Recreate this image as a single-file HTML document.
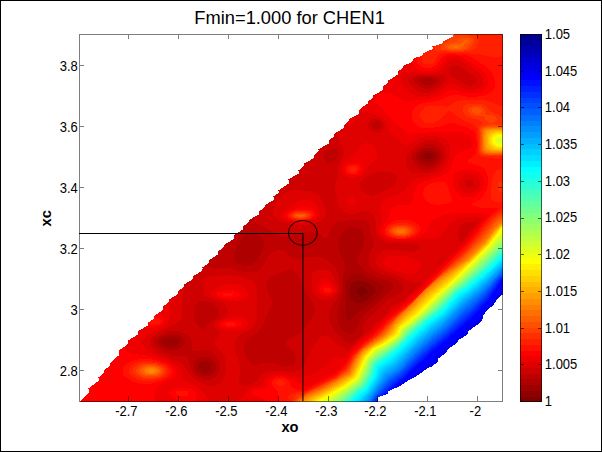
<!DOCTYPE html>
<html><head><meta charset="utf-8"><style>
html,body{margin:0;padding:0;width:602px;height:452px;overflow:hidden;background:#fff}
svg{display:block}
svg text{font-family:"Liberation Sans",sans-serif;font-size:13px;fill:#000}
</style></head><body>
<svg width="602" height="452" viewBox="0 0 602 452"><rect x="0.5" y="0.5" width="601" height="451" fill="#fff" stroke="#000" stroke-width="1"/><g transform="scale(0.5)" fill-rule="evenodd" shape-rendering="crispEdges"><path fill="#800000" d="M1005 68 909 68 905 70 905 73 903 75 886 83 886 85 884 87 865 93 865 97 863 99 845 107 845 110 843 112 826 118 826 122 824 124 806 132 806 136 796 143 796 149 777 161 776 166 766 173 766 180 747 191 746 196 736 203 736 207 724 214 723 217 717 222 717 228 698 238 697 243 688 250 688 256 668 268 668 273 657 281 657 287 637 299 637 303 628 310 628 316 608 328 608 332 597 341 597 347 577 359 577 367 557 381 557 386 547 393 547 400 530 410 529 415 517 423 517 429 498 440 497 445 485 453 485 459 467 471 467 478 448 490 447 495 435 503 435 509 418 521 418 526 405 535 405 541 387 552 385 559 368 569 368 573 356 583 356 588 338 599 338 604 326 613 326 620 308 632 308 637 296 645 296 651 277 662 275 670 256 681 256 688 237 702 237 711 219 727 219 732 208 741 208 746 197 755 197 762 177 777 177 786 160 803 755 803 755 795 757 793 760 793 775 788 775 784 777 782 802 771 821 758 838 749 855 736 862 734 875 724 875 718 892 706 896 698 913 687 917 680 934 670 936 667 937 662 954 650 965 639 967 630 974 620 985 612 994 599 1005 589Z"/><path fill="#8f0000" d="M716 576 722 574 729 576 734 581 733 586 726 591 719 591 713 585 713 580ZM1005 68 909 68 905 70 905 73 903 75 886 83 886 85 884 87 865 93 865 97 863 99 845 107 845 110 843 112 826 118 826 122 824 124 806 132 806 136 796 143 796 149 777 161 776 166 766 173 766 180 747 191 746 196 736 203 736 207 724 214 723 217 717 222 717 228 698 238 697 243 688 250 688 256 668 268 668 273 657 281 657 287 637 299 637 303 628 310 628 316 608 328 608 332 597 341 597 347 577 359 577 367 557 381 557 386 547 393 547 400 530 410 529 415 517 423 517 429 498 440 497 445 485 453 485 459 467 471 467 478 448 490 447 495 435 503 435 509 418 521 418 526 405 535 405 541 387 552 385 559 368 569 368 573 356 583 356 588 338 599 338 604 326 613 326 620 308 632 308 637 296 645 296 651 277 662 275 670 256 681 256 688 237 702 237 711 219 727 219 732 208 741 208 746 197 755 197 762 177 777 177 786 160 803 755 803 755 795 757 793 760 793 775 788 775 784 777 782 802 771 821 758 838 749 855 736 862 734 875 724 875 718 892 706 896 698 913 687 917 680 934 670 936 667 937 662 954 650 965 639 967 630 974 620 985 612 994 599 1005 589Z"/><path fill="#9f0000" d="M338 683 342 682 343 684 339 685ZM701 572 703 568 711 562 723 562 735 566 745 572 749 577 749 585 746 590 734 601 722 606 711 606 704 600 700 591 699 582ZM846 311 850 307 860 306 866 311 866 313 861 318 853 319 850 318 846 314ZM1005 68 909 68 905 70 905 73 903 75 886 83 886 85 884 87 865 93 865 97 863 99 845 107 845 110 843 112 826 118 826 122 824 124 806 132 806 136 796 143 796 149 777 161 776 166 766 173 766 180 747 191 746 196 736 203 736 207 724 214 723 217 717 222 717 228 698 238 697 243 688 250 688 256 668 268 668 273 657 281 657 287 637 299 637 303 628 310 628 316 608 328 608 332 597 341 597 347 577 359 577 367 557 381 557 386 547 393 547 400 530 410 529 415 517 423 517 429 498 440 497 445 485 453 485 459 467 471 467 478 448 490 447 495 435 503 435 509 418 521 418 526 405 535 405 541 387 552 385 559 368 569 368 573 356 583 356 588 338 599 338 604 326 613 326 620 308 632 308 637 296 645 296 651 277 662 275 670 256 681 256 688 237 702 237 711 219 727 219 732 208 741 208 746 197 755 197 762 177 777 177 786 160 803 755 803 755 795 757 793 760 793 775 788 775 784 777 782 802 771 821 758 838 749 855 736 862 734 875 724 875 718 892 706 896 698 913 687 917 680 934 670 936 667 937 662 954 650 965 639 967 630 974 620 985 612 994 599 1005 589Z"/><path fill="#af0000" d="M398 727 407 722 415 723 422 729 423 737 421 741 416 745 413 746 404 745 396 737 396 730ZM324 682 326 679 331 676 343 674 352 676 357 679 359 682 359 686 354 691 349 693 335 693 328 690 324 686ZM759 567 765 573 765 579 759 589 753 596 739 609 718 623 701 640 696 640 692 634 691 629 691 584 692 583 693 565 698 554 704 549 715 548 724 551 735 557ZM838 310 844 304 848 302 863 301 866 302 872 307 873 315 865 323 859 325 851 325 844 322 838 316ZM1005 68 909 68 905 70 905 73 903 75 886 83 886 85 884 87 865 93 865 97 863 99 845 107 845 110 843 112 826 118 826 122 824 124 806 132 806 136 796 143 796 149 777 161 776 166 766 173 766 180 747 191 746 196 736 203 736 207 724 214 723 217 717 222 717 228 698 238 697 243 688 250 688 256 668 268 668 273 657 281 657 287 637 299 637 303 628 310 628 316 608 328 608 332 597 341 597 347 577 359 577 367 557 381 557 386 547 393 547 400 530 410 529 415 517 423 517 429 498 440 497 445 485 453 485 459 467 471 467 478 448 490 447 495 435 503 435 509 418 521 418 526 405 535 405 541 387 552 385 559 368 569 368 573 356 583 356 588 338 599 338 604 326 613 326 620 308 632 308 637 296 645 296 651 277 662 275 670 256 681 256 688 237 702 237 711 219 727 219 732 208 741 208 746 197 755 197 762 177 777 177 786 160 803 755 803 755 795 757 793 760 793 775 788 775 784 777 782 802 771 821 758 838 749 855 736 862 734 875 724 875 718 892 706 896 698 913 687 917 680 934 670 936 667 937 662 954 650 965 639 967 630 974 620 985 612 994 599 1005 589Z"/><path fill="#bf0000" d="M400 715 408 713 416 714 421 716 428 723 431 729 431 738 429 743 420 751 407 752 401 750 396 747 390 740 388 734 389 726 391 722ZM315 683 322 675 328 672 340 669 348 669 357 671 363 674 369 680 370 685 368 690 360 697 353 700 343 701 331 698 323 694 316 687ZM519 473 526 480 528 484 528 494 521 510 512 523 502 530 487 531 478 528 469 520 468 518 468 509 472 497 479 482 489 471 495 468 508 468ZM709 454 718 457 723 462 726 468 728 476 727 491 716 513 714 519 715 526 722 534 740 548 755 555 779 563 785 568 787 574 786 577 781 583 771 590 745 616 733 625 724 634 718 643 714 654 709 663 702 668 697 668 689 664 682 657 677 648 675 641 675 625 685 587 685 581 686 580 685 566 686 565 687 548 690 536 690 525 683 514 678 502 678 482 681 471 685 464 689 460 699 455ZM863 295 870 298 877 304 879 308 879 315 877 319 868 328 862 331 851 332 841 328 833 320 831 316 831 311 833 307 845 298 854 295ZM838 161 841 158 846 156 862 156 866 157 870 161 870 163 864 168 858 170 851 170 841 166 838 163ZM1005 68 909 68 905 70 905 73 903 75 886 83 886 85 884 87 865 93 865 97 863 99 845 107 845 110 843 112 826 118 826 122 824 124 806 132 806 136 796 143 796 149 777 161 776 166 766 173 766 180 747 191 746 196 736 203 736 207 724 214 723 217 717 222 717 228 698 238 697 243 688 250 688 256 668 268 668 273 657 281 657 287 637 299 637 303 628 310 628 316 608 328 608 332 597 341 597 347 577 359 577 367 557 381 557 386 547 393 547 400 530 410 529 415 517 423 517 429 498 440 497 445 485 453 485 459 467 471 467 478 448 490 447 495 435 503 435 509 418 521 418 526 405 535 405 541 387 552 385 559 368 569 368 573 356 583 356 588 338 599 338 604 326 613 326 620 308 632 308 637 296 645 296 651 277 662 275 670 256 681 256 688 237 702 237 711 219 727 219 732 208 741 208 746 197 755 197 762 177 777 177 786 160 803 755 803 755 795 757 793 760 793 775 788 775 784 777 782 802 771 821 758 838 749 855 736 862 734 875 724 875 718 892 706 896 698 913 687 917 680 934 670 936 667 937 662 954 650 965 639 967 630 974 620 985 612 994 599 1005 589Z"/><path fill="#cf0000" d="M309 679 317 672 329 666 343 662 357 662 372 668 378 673 382 679 383 682 383 699 386 701 401 701 402 700 414 701 424 705 433 713 437 719 440 728 440 738 435 750 430 755 422 759 409 759 396 754 385 744 380 733 376 716 374 714 367 712 345 711 327 704 310 691 308 687ZM399 602 411 602 426 607 434 614 438 623 437 631 431 637 421 643 415 649 412 656 409 658 405 658 399 655 394 650 389 638 388 626 389 625 390 612 392 608ZM584 539 594 548 597 553 611 584 624 603 630 617 629 626 626 632 609 657 600 666 577 679 572 685 572 690 590 706 593 715 592 722 585 730 575 733 564 732 541 725 533 725 512 730 507 729 503 727 494 716 488 702 487 689 494 678 502 672 513 666 522 658 528 647 533 632 543 612 544 607 543 601 537 589 533 575 534 562 539 555 550 549 560 546 575 539 579 538ZM671 299 676 304 677 307 675 314 665 323 657 327 654 327 650 323 647 316 648 306 652 301 657 298 666 297ZM871 290 881 299 885 307 885 315 879 326 872 333 860 339 850 340 849 339 844 339 835 335 829 329 824 319 825 308 835 298 851 289 865 288ZM745 247 751 242 756 242 762 246 763 253 758 258 750 258 746 255 744 251ZM828 159 833 155 840 153 861 152 862 153 869 153 877 156 880 159 880 162 873 170 860 177 847 177 835 171 828 164ZM1005 68 909 68 905 70 905 73 903 75 886 83 886 85 884 87 865 93 865 97 863 99 845 107 845 110 843 112 826 118 826 122 824 124 806 132 806 136 796 143 796 149 777 161 776 166 766 173 766 180 747 191 746 196 736 203 736 207 724 214 723 217 717 222 717 228 698 238 697 243 688 250 688 256 668 268 668 273 657 281 657 287 638 298 637 303 628 310 628 316 609 327 608 332 597 341 597 347 577 359 577 367 557 381 557 386 547 393 547 400 530 410 529 415 517 423 517 429 506 436 509 443 515 448 533 457 552 469 566 475 577 474 586 470 607 464 625 464 640 470 648 476 652 476 656 472 665 451 671 445 675 443 683 441 695 441 696 440 707 440 708 439 728 439 732 441 737 446 739 450 740 463 742 471 748 484 747 493 743 499 737 513 737 525 740 532 746 539 753 544 764 549 784 555 797 562 804 569 806 573 806 580 799 588 785 594 773 601 749 626 736 636 728 648 726 655 725 668 704 687 701 687 692 683 682 676 673 667 666 657 660 645 658 638 658 625 659 622 676 593 680 584 680 573 678 566 677 549 672 537 660 525 644 514 624 513 623 514 615 514 600 517 588 517 581 513 568 501 564 499 556 499 544 505 537 512 524 535 517 542 512 544 507 544 506 545 488 544 459 537 425 535 418 533 413 530 406 534 404 542 387 552 385 559 368 569 368 573 356 583 356 588 338 599 338 604 326 613 326 620 308 632 308 637 296 645 296 651 277 662 275 670 256 681 256 688 237 702 237 711 219 727 219 732 208 741 208 746 197 755 197 762 177 777 177 786 160 803 755 803 755 795 757 793 760 793 775 788 775 784 777 782 802 771 821 758 838 749 855 736 862 734 875 724 875 718 892 706 896 698 913 687 917 680 934 670 936 667 937 662 954 650 965 639 967 630 974 620 985 612 994 599 1005 589Z"/><path fill="#df0000" d="M635 539 629 542 626 545 623 552 623 568 624 569 624 578 626 584 634 593 642 598 648 600 658 599 668 593 673 588 676 581 675 574 671 566 668 554 665 549 659 543 653 540ZM875 530 876 529 877 530 876 531ZM876 529 877 528 878 529 877 530ZM888 517 889 518 878 529 877 527 881 522ZM888 517 889 516 890 517 889 518ZM889 516 890 515 891 516 890 517ZM954 444 955 445 922 485 918 479 916 472 916 461 920 453 924 449 932 445 936 444ZM546 419 547 431 554 439 570 446 585 449 618 449 633 446 643 441 649 435 652 427 652 423 649 413 640 394 636 389 625 383 615 381 605 381 604 380 583 381 568 387 554 401 548 412ZM941 359 947 364 946 371 939 375 933 373 930 369 930 364 934 360ZM793 352 794 360 792 365 787 371 778 377 756 388 747 391 740 391 731 386 721 376 718 370 718 366 726 358 742 348 755 344 777 343 788 347ZM880 285 886 291 890 299 892 311 890 319 886 327 875 339 866 344 859 346 835 347 826 345 820 342 815 337 812 326 812 315 815 308 829 294 843 284 854 280 869 280ZM739 242 743 239 749 237 755 237 762 240 768 247 769 252 767 258 762 263 757 265 750 265 744 263 739 259 736 254 736 247ZM817 163 817 159 821 154 832 150 870 149 871 150 889 151 894 154 894 158 892 161 881 172 871 180 859 185 844 185 835 182 820 168ZM900 135 907 129 911 129 922 134 948 152 952 158 951 166 944 171 936 171 928 168 914 158 902 153 898 149 898 140ZM1005 68 909 68 905 70 905 73 903 75 886 83 886 85 884 87 865 93 865 97 863 99 845 107 845 110 843 112 826 118 826 122 824 124 806 132 806 136 796 143 796 149 777 161 776 166 766 173 766 180 747 191 746 196 736 203 736 207 724 214 723 217 717 222 717 228 698 238 697 243 688 250 688 256 673 265 675 275 683 288 687 298 687 310 676 333 675 337 675 354 669 372 669 378 673 393 673 397 676 409 680 418 687 424 694 427 711 427 729 422 737 422 741 424 748 431 752 442 751 465 754 471 762 479 772 484 784 487 826 486 827 487 832 487 838 490 840 493 839 498 835 501 827 503 815 503 794 499 775 499 766 502 761 505 754 512 752 517 752 527 754 531 760 537 773 544 795 551 826 565 836 566 842 564 844 565 839 571 814 594 797 608 788 609 782 612 778 617 775 626 757 643 754 643 747 647 744 651 743 655 744 657 720 677 696 700 685 695 673 687 659 675 650 671 646 671 641 673 634 680 618 708 610 729 600 739 594 742 584 744 554 742 553 741 538 742 532 744 524 749 509 766 496 771 490 771 489 772 482 770 478 765 478 760 477 759 480 743 480 728 470 698 470 686 474 676 481 669 501 658 507 653 511 647 513 638 513 627 514 626 513 623 514 583 512 573 508 565 503 561 497 558 483 554 467 552 466 551 458 551 457 550 443 550 442 551 431 551 430 552 419 553 409 557 406 560 405 567 408 575 408 586 411 591 417 595 440 603 449 608 453 613 455 621 455 625 453 630 449 634 430 644 427 649 428 653 440 666 438 671 431 678 429 682 429 687 444 705 449 715 452 729 452 740 449 754 445 761 438 768 431 772 421 773 411 770 393 761 387 757 378 748 370 734 363 727 354 722 341 718 321 709 312 703 301 692 299 688 300 679 308 671 330 658 355 646 361 641 365 629 364 607 365 606 365 597 368 582 369 568 368 573 356 583 356 588 338 599 338 604 326 613 326 620 308 632 308 637 296 645 296 651 276 663 276 669 256 681 256 688 237 702 237 711 219 727 219 732 208 741 208 746 197 755 197 762 177 777 177 786 160 803 755 803 755 795 757 793 760 793 775 788 775 784 777 782 802 771 821 758 838 749 855 736 862 734 875 724 875 718 892 706 896 698 913 687 917 680 934 670 936 667 937 662 954 650 965 639 967 630 974 620 985 612 994 599 1005 589Z"/><path fill="#ef0000" d="M496 643 491 637 485 634 469 634 446 640 438 644 435 647 435 651 439 655 448 659 457 661 470 661 485 657 492 653 496 648ZM342 597 338 599 338 604 326 613 326 620 308 632 308 637 296 645 296 651 276 663 276 669 256 681 256 688 237 702 237 711 219 727 219 732 208 741 208 746 197 755 197 762 177 777 177 786 160 803 419 803 410 789 401 779 391 772 375 764 373 764 367 760 365 756 363 744 358 735 354 731 336 721 324 717 305 708 296 702 286 692 284 688 284 682 286 678 291 673 306 663 327 653 336 644 339 634 340 603ZM422 586 423 590 430 595 458 602 478 602 489 598 496 590 496 586 494 582 488 575 480 570 470 567 452 567 448 568 427 580ZM644 558 640 562 634 573 633 581 635 585 640 589 648 592 658 592 667 588 671 583 671 577 669 573 655 558 652 557ZM766 522 767 528 774 535 788 541 817 548 822 548 832 545 836 542 841 533 841 528 838 523 823 516 800 511 779 511 772 514 767 519ZM640 425 633 411 624 402 617 399 605 399 593 404 581 414 568 422 565 425 563 431 567 437 578 442 587 444 595 444 596 445 607 445 608 444 622 443 634 438 640 431ZM699 394 696 398 697 407 701 410 707 410 711 408 713 404 712 400 705 394ZM928 350 934 348 946 349 950 351 957 358 959 363 959 369 956 376 951 381 943 385 932 385 927 383 919 375 917 370 918 360ZM746 290 739 286 730 286 726 288 716 297 704 312 690 325 684 334 683 341 685 347 691 353 700 356 707 356 720 352 729 345 736 333 750 321 753 315 753 304 751 298ZM711 231 697 239 697 243 695 246 699 250 704 250 708 246ZM965 159 965 167 963 171 959 175 950 179 945 180 932 179 921 175 912 170 903 168 892 172 882 181 871 188 857 192 836 192 828 190 820 186 810 176 802 164 801 156 805 148 812 143 822 143 831 145 845 145 846 146 864 146 879 143 886 137 891 128 897 121 903 118 913 118 923 122 952 142 961 151ZM1005 68 909 68 905 70 905 73 903 75 886 83 886 85 884 87 865 93 865 97 863 99 845 107 845 110 843 112 826 118 826 122 824 124 806 132 806 136 796 143 796 149 777 161 776 166 766 173 766 180 747 191 746 196 736 203 736 207 724 214 723 217 717 222 717 224 720 223 732 224 763 234 770 240 774 246 777 261 779 264 789 272 805 288 809 290 817 289 831 280 845 274 854 272 872 272 887 276 892 279 898 285 901 294 900 309 897 320 891 333 883 342 868 350 858 353 835 357 826 361 820 366 810 380 804 385 796 389 779 394 773 397 764 404 760 413 761 423 764 433 764 440 758 457 758 463 760 468 767 475 779 480 789 481 790 482 813 482 814 481 822 481 823 480 845 478 846 477 866 477 875 475 882 471 897 451 903 445 913 439 933 434 953 434 954 435 965 436 966 437 928 485 892 520 859 554 849 566 813 600 770 635 745 662 726 677 699 702 690 717 679 714 669 715 664 718 656 728 650 733 626 748 612 753 595 754 565 748 551 748 542 750 536 753 530 759 526 766 522 770 515 773 502 776 494 780 491 783 488 793 485 796 463 803 755 803 755 795 757 793 760 793 775 788 775 784 777 782 802 771 821 758 838 749 855 736 862 734 875 724 875 718 892 706 896 698 913 687 917 680 934 670 936 667 937 662 954 650 965 639 967 630 974 620 985 612 994 599 1005 589Z"/><path fill="#ff0000" d="M338 785 338 788 340 791 351 797 358 803 392 803 391 802 391 787 389 783 382 778 375 776 356 776 346 779ZM352 742 350 737 343 730 330 723 292 711 263 707 254 703 246 695 237 702 237 711 219 727 219 732 208 741 208 746 197 755 197 762 177 777 177 786 160 803 313 803 311 799 309 789 309 783 311 778 323 768 344 757 350 751 352 747ZM484 646 481 643 476 641 463 640 448 643 442 647 442 650 445 653 454 656 470 656 481 652 484 649ZM321 625 320 624 308 632 308 637 296 645 296 651 287 656 309 655 319 652 324 649 328 644 328 638 321 627ZM433 586 433 590 435 592 443 595 454 596 455 597 464 597 474 595 481 590 481 588 478 584 466 580 449 580 440 582ZM640 577 640 582 644 586 649 588 661 587 667 581 666 577 661 572 655 570 647 571 642 574ZM795 527 796 528 801 528 800 527ZM633 427 630 422 624 417 614 413 607 413 591 417 576 423 571 427 570 432 576 438 585 441 612 442 628 437 632 433ZM914 344 930 339 943 339 953 342 958 345 965 353 967 359 967 371 962 382 953 390 943 394 929 394 918 389 911 381 906 366 907 352 909 348ZM689 336 689 343 691 346 695 349 701 351 713 350 719 347 725 339 725 334 723 330 720 327 715 325 700 326 693 330ZM1005 68 909 68 905 70 905 73 903 75 886 83 886 85 884 87 865 93 865 97 863 99 845 107 845 110 843 112 826 118 826 122 823 124 827 132 835 138 845 141 865 141 875 137 881 131 887 121 896 113 899 112 916 112 924 114 960 137 973 151 976 159 975 172 967 181 961 184 953 186 939 187 938 186 926 185 912 180 902 179 894 182 886 188 871 195 857 198 824 201 823 202 811 202 804 200 789 191 775 185 760 186 754 189 750 195 750 199 753 206 790 246 815 265 821 267 831 267 832 266 855 265 856 264 883 264 884 263 917 264 926 266 938 271 945 278 947 285 946 290 942 296 937 299 922 303 912 310 905 324 902 336 897 344 883 352 847 363 837 369 830 380 826 398 821 407 816 410 792 411 783 416 780 423 778 436 766 453 764 458 764 464 766 468 775 475 790 479 820 478 835 474 847 468 854 461 860 446 867 439 883 432 903 427 918 426 919 425 966 426 967 427 977 427 978 428 933 485 867 551 847 574 819 600 776 635 751 662 713 694 702 705 687 730 668 747 617 773 614 773 595 766 586 760 573 754 564 752 550 753 543 756 538 761 535 771 531 776 512 778 503 782 502 787 506 791 524 796 527 799 527 803 755 803 755 795 757 793 760 793 775 788 775 784 777 782 802 771 821 758 838 749 855 736 862 734 875 724 875 718 892 706 896 698 913 687 917 680 934 670 936 667 937 662 954 650 965 639 967 630 974 620 985 612 994 599 1005 589Z"/><path fill="#ff1000" d="M352 785 352 787 355 790 361 792 372 792 376 790 378 787 375 783 369 781 360 781 356 782ZM245 738 246 748 252 755 268 764 282 768 301 768 322 762 336 755 344 746 344 740 342 736 332 728 317 722 299 718 279 718 264 722 254 727 247 734ZM450 648 452 651 455 652 467 652 473 649 472 646 464 644 455 645ZM296 645 302 649 311 650 319 647 321 645 322 641 318 636 308 633 308 637ZM444 589 450 592 462 592 466 590 465 587 458 585 445 587ZM647 578 647 581 651 584 658 584 661 581 661 579 658 576 650 576ZM769 458 769 465 773 470 780 474 792 477 811 477 821 475 832 471 841 462 840 454 833 447 825 443 814 440 796 440 789 442 775 450ZM575 429 575 433 578 436 585 439 598 440 599 441 612 440 620 438 624 436 628 431 628 428 623 423 611 419 601 419 600 420 589 421 579 425ZM849 376 846 385 847 392 852 401 857 405 864 408 869 408 870 409 883 409 899 406 903 403 903 397 896 373 892 366 889 364 878 363 865 366 856 370ZM693 338 694 343 696 345 704 348 711 347 715 345 719 340 718 334 715 331 712 330 701 330 696 333ZM1005 68 909 68 905 70 905 73 903 75 886 83 886 85 884 87 865 93 865 97 863 99 845 107 845 110 843 112 833 115 834 124 840 132 850 136 862 136 873 130 882 116 889 110 898 108 913 108 914 109 924 109 934 111 943 115 972 133 984 146 989 158 990 171 987 179 982 185 969 191 957 192 956 193 931 193 930 192 908 190 898 192 891 196 880 200 866 203 860 203 840 208 834 211 827 218 824 225 824 230 823 231 824 232 824 238 827 245 833 251 842 255 866 256 867 255 877 254 899 246 907 246 936 256 944 260 949 265 951 269 953 279 953 295 952 296 951 307 947 313 938 318 935 321 935 324 959 332 966 336 970 340 975 351 975 371 973 379 967 391 959 399 944 407 943 410 947 412 962 415 996 417 997 418 985 427 978 434 934 490 903 520 865 559 855 571 826 599 775 641 750 668 731 683 709 703 702 712 691 731 669 751 628 771 611 781 601 779 594 779 585 776 582 773 579 764 575 760 569 757 554 756 546 760 544 763 544 769 546 773 556 784 556 797 558 803 755 803 755 795 757 793 760 793 775 788 775 784 777 782 802 771 821 758 838 749 855 736 862 734 875 724 875 718 892 706 896 698 913 687 917 680 934 670 936 667 937 662 954 650 965 639 967 630 974 620 985 612 994 599 1005 589Z"/><path fill="#ff2000" d="M551 765 553 769 557 771 566 771 570 768 569 763 564 760 556 760ZM257 740 259 748 264 753 275 759 287 762 305 762 315 760 331 753 338 745 338 740 336 736 330 731 313 724 303 723 302 722 287 722 274 725 263 731 260 734ZM773 459 773 465 778 470 784 473 792 475 811 475 820 473 830 468 834 462 833 457 827 451 812 446 794 446 779 452ZM579 429 579 433 581 435 593 439 608 439 617 437 621 435 624 431 623 428 620 425 611 422 590 423 584 425ZM1005 417 982 435 940 488 864 564 849 581 822 606 782 639 756 667 733 685 708 708 691 736 671 753 609 785 608 784 594 784 584 786 580 788 576 792 576 797 580 803 755 803 755 795 757 793 760 793 775 788 775 784 777 782 802 771 821 758 838 749 855 736 862 734 875 724 875 718 892 706 896 698 913 687 917 680 934 670 936 667 937 662 954 650 965 639 967 630 974 620 985 612 994 599 1005 589ZM1003 338 1000 338 993 341 987 350 984 362 982 383 981 384 981 395 983 399 990 403 995 404 1005 404 1005 339ZM714 337 712 335 706 333 700 335 698 340 702 344 709 344 714 340ZM842 222 840 228 841 235 843 239 851 245 865 246 871 244 880 239 894 224 899 222 904 224 915 233 926 240 949 250 953 256 953 261 954 262 955 278 956 279 956 306 958 310 963 313 971 315 987 316 988 317 1005 317 1005 211 998 211 986 205 971 201 926 200 912 203 896 213 889 213 882 211 861 211 856 212 849 215ZM843 121 849 128 861 129 865 127 870 122 877 110 886 106 939 106 940 107 952 107 989 115 1005 112 1005 68 909 68 905 70 905 73 903 75 886 83 886 85 884 87 865 93 865 97 863 99 845 107 845 110 843 112Z"/><path fill="#ff3000" d="M265 741 267 747 272 752 284 757 296 758 297 759 309 758 320 755 326 752 333 744 332 738 326 732 314 727 304 726 303 725 285 726 276 729 267 736ZM777 459 777 465 781 469 787 472 798 473 799 474 812 473 819 471 826 467 828 464 828 459 825 455 820 452 809 449 791 450 783 453ZM582 430 582 432 585 435 596 438 611 437 618 434 620 431 618 427 610 424 594 424 587 426ZM1005 422 994 429 985 437 943 489 914 518 882 547 847 583 824 605 782 641 755 670 734 686 717 701 708 711 697 731 691 739 671 755 617 782 615 784 607 788 603 787 602 788 595 788 590 790 587 793 589 799 583 803 755 803 755 795 757 793 760 793 775 788 775 784 777 782 802 771 821 758 838 749 855 736 862 734 875 724 875 718 892 706 896 698 913 687 917 680 934 670 936 667 937 662 954 650 965 639 967 630 974 620 985 612 994 599 1005 589ZM1000 363 996 368 995 377 999 384 1004 384 1005 383 1005 364ZM931 210 926 215 926 223 929 228 932 231 941 236 954 239 962 243 965 247 960 251 957 256 958 302 960 307 964 310 971 312 1005 313 1005 237 1004 235 998 230 981 223 971 212 965 209 957 207 941 207ZM870 100 875 102 897 103 898 104 927 104 928 103 940 102 949 98 953 94 957 84 957 79 951 68 909 68 905 70 905 73 903 75 886 83 886 85 884 87 874 90 870 95Z"/><path fill="#ff4000" d="M272 739 272 744 277 750 289 755 295 755 296 756 304 756 317 753 323 750 328 745 328 739 325 735 316 730 308 728 286 729 277 733ZM780 461 781 465 784 468 795 472 812 471 820 468 824 463 824 460 822 457 811 452 794 452 784 456ZM1005 427 996 432 988 439 945 491 921 515 875 555 814 615 799 627 773 653 758 670 724 696 715 705 708 714 698 733 692 741 674 755 613 786 606 791 599 792 594 798 586 803 755 803 755 795 757 793 760 793 775 788 775 784 777 782 802 771 821 758 838 749 855 736 862 734 875 724 875 718 892 706 896 698 913 687 917 680 934 670 936 667 937 662 954 650 965 639 967 630 974 620 985 612 994 599 1005 589ZM586 430 586 433 593 436 609 436 616 432 615 428 606 425 592 426ZM962 254 959 259 960 301 961 304 965 308 971 310 1005 311 1005 250 992 249 991 248 981 248ZM936 219 936 223 941 229 950 232 966 232 969 235 971 240 979 245 986 246 993 241 993 236 990 233 985 231 973 230 970 227 970 223 968 218 961 213 946 212 939 215ZM881 96 885 99 899 102 924 102 933 100 941 95 948 85 948 79 944 75 934 71 930 68 909 68 905 70 905 73 900 76 900 79 896 83 886 88 881 93Z"/><path fill="#ff5000" d="M277 741 278 745 282 749 293 753 313 752 321 748 324 744 324 739 319 734 307 730 294 730 286 732 282 734 278 738ZM784 461 784 464 788 468 794 470 809 470 815 468 820 463 818 458 808 454 795 454 787 457ZM1005 432 1001 433 990 442 964 474 924 516 880 552 845 584 814 616 796 631 763 668 722 699 708 717 698 737 694 742 672 758 611 789 589 803 755 803 755 795 757 793 760 793 775 788 775 784 777 782 802 771 821 758 838 749 855 736 862 734 875 724 875 718 892 706 896 698 913 687 917 680 934 670 936 667 937 662 954 650 965 639 967 630 974 620 985 612 994 599 1005 589ZM589 431 590 433 595 435 606 435 612 432 612 430 607 427 595 427 592 428ZM965 255 962 258 961 261 961 287 962 288 962 301 967 307 975 309 1005 310 1005 252 994 252 993 251 975 252ZM943 220 943 223 946 226 952 228 959 227 963 223 962 219 957 216 948 216 944 218ZM943 81 939 77 931 75 923 76 912 84 893 89 889 92 889 96 899 100 910 100 911 101 912 100 926 99 931 97 934 94 936 90 941 86Z"/><path fill="#ff6000" d="M282 740 282 743 285 747 295 751 312 750 318 747 321 742 320 739 316 735 307 732 291 733 285 736ZM788 461 788 464 794 468 808 468 815 464 814 459 806 456 793 457ZM1005 436 1001 437 993 444 962 481 927 517 877 556 844 585 830 601 792 637 766 668 725 698 720 703 708 720 699 739 695 744 675 758 646 774 616 788 592 803 755 803 755 795 757 793 760 793 775 788 775 784 777 782 802 771 821 758 838 749 855 736 862 734 875 724 875 718 892 706 896 698 913 687 917 680 934 670 936 667 937 662 954 650 965 639 967 630 974 620 985 612 994 599 1005 589ZM594 430 594 432 596 433 605 433 608 431 605 429 596 429ZM966 257 963 261 963 293 965 302 969 306 979 308 1005 308 1005 253 974 254ZM936 81 928 80 922 87 904 89 898 91 896 93 896 95 902 98 908 98 909 99 920 98 927 93 927 89 930 86 935 84Z"/><path fill="#ff7000" d="M287 739 287 744 296 749 311 748 317 743 317 740 313 736 307 734 297 734 293 735ZM793 461 793 464 797 466 806 466 810 464 810 461 807 459 796 459ZM1005 441 1004 440 995 447 983 460 971 476 930 518 876 558 843 586 827 605 797 633 768 669 724 700 708 723 708 725 699 743 696 746 673 761 657 769 648 775 614 791 594 803 755 803 755 795 757 793 760 793 775 788 775 784 777 782 802 771 821 758 838 749 855 736 862 734 875 724 875 718 892 706 896 698 913 687 917 680 934 670 936 667 937 662 954 650 965 639 967 630 974 620 985 612 994 599 1005 589ZM968 258 965 262 965 269 964 270 965 273 965 294 967 301 970 304 975 306 1005 307 1005 255 979 255ZM905 94 909 96 915 95 916 93 910 92Z"/><path fill="#ff8000" d="M291 741 293 745 298 747 306 747 313 743 313 740 306 736 298 736 293 738ZM1005 442 988 459 976 475 929 522 879 557 848 582 838 592 826 607 796 636 774 665 766 673 726 700 722 704 707 729 701 744 697 748 648 777 617 791 597 803 755 803 755 795 757 793 760 793 775 788 775 784 777 782 802 771 821 758 838 749 855 736 862 734 875 724 875 718 892 706 896 698 913 687 917 680 934 670 936 667 937 662 954 650 965 639 967 630 974 620 985 612 994 599 1005 589ZM969 260 967 263 967 268 966 269 967 294 969 300 972 303 979 305 1005 306 1005 256 984 256 983 257 976 257Z"/><path fill="#ff8f00" d="M297 740 297 743 299 744 306 744 308 742 305 739ZM1005 445 988 461 973 481 933 521 878 561 850 584 827 610 799 636 770 672 726 702 714 720 702 746 699 749 647 780 617 794 603 803 755 803 755 795 757 793 760 793 775 788 775 784 777 782 802 771 821 758 838 749 855 736 862 734 875 724 875 718 892 706 896 698 913 687 917 680 934 670 936 667 937 662 954 650 965 639 967 630 974 620 985 612 994 599 1005 589ZM972 261 969 265 969 271 968 272 968 284 971 298 974 301 979 303 1005 305 1005 257 980 258Z"/><path fill="#ff9f00" d="M1005 447 989 462 974 482 934 522 880 563 851 587 826 615 802 636 789 651 782 662 770 674 729 702 724 707 715 722 710 734 701 750 660 775 622 794 608 803 755 803 755 795 757 793 760 793 775 788 775 784 777 782 802 771 821 758 838 749 855 736 862 734 875 724 875 718 892 706 896 698 913 687 917 680 934 670 936 667 937 662 954 650 965 639 967 630 974 620 985 612 994 599 1005 589ZM975 262 972 265 970 275 971 290 973 296 977 300 983 302 1005 303 1005 259 986 259Z"/><path fill="#ffaf00" d="M1005 449 1002 450 996 456 975 483 935 523 878 568 851 591 838 606 793 649 785 662 773 674 742 694 729 704 724 710 721 717 715 726 715 728 704 750 678 767 650 783 629 793 613 803 755 803 755 795 757 793 760 793 775 788 775 784 777 782 802 771 821 758 838 749 855 736 862 734 875 724 875 718 892 706 896 698 913 687 917 680 934 670 936 667 937 662 954 650 965 639 967 630 974 620 985 612 994 599 1005 589ZM979 263 975 267 973 272 973 287 975 293 978 297 984 300 1004 302 1005 301 1005 260 992 260Z"/><path fill="#ffbf00" d="M1005 451 1003 451 994 460 976 484 936 524 861 586 825 623 808 637 793 652 787 663 781 669 766 681 747 692 733 703 726 710 707 749 703 753 677 770 656 782 635 792 618 803 755 803 755 795 757 793 760 793 775 788 775 784 777 782 802 771 821 758 838 749 855 736 862 734 875 724 875 718 892 706 896 698 913 687 917 680 934 670 936 667 937 662 954 650 965 639 967 630 974 620 985 612 994 599 1005 589ZM980 266 978 268 975 276 975 284 978 292 982 296 989 299 1005 300 1005 262 991 262Z"/><path fill="#ffcf00" d="M1005 452 1002 453 977 485 937 525 902 556 863 588 832 620 806 642 794 654 789 664 783 670 764 684 745 695 728 710 708 751 705 754 676 773 653 786 636 794 623 803 755 803 755 795 757 793 760 793 775 788 775 784 777 782 802 771 821 758 838 749 855 736 862 734 875 724 875 718 893 705 896 698 913 687 917 680 934 670 936 667 937 662 954 650 965 639 967 630 974 620 985 612 994 599 1005 589ZM984 267 978 275 978 286 980 290 985 295 990 297 1005 298 1005 264 992 264Z"/><path fill="#ffdf00" d="M1005 454 1003 454 998 459 978 486 938 526 900 561 865 590 827 628 798 652 791 665 785 671 767 684 747 695 729 712 709 753 687 769 650 790 637 796 627 803 755 803 755 795 757 793 760 793 775 788 775 784 777 782 802 771 821 758 838 749 855 736 862 734 875 724 875 718 893 705 896 698 913 687 917 680 934 670 936 667 937 662 954 650 965 639 967 630 974 620 985 612 994 599 1005 589ZM986 269 983 272 980 278 980 283 982 288 987 293 991 295 1005 296 1005 266 993 266Z"/><path fill="#ffef00" d="M1005 454 1001 457 979 487 939 527 899 565 867 592 841 619 798 655 793 667 790 670 767 686 748 696 730 713 721 734 710 755 686 772 638 798 632 803 755 803 755 795 757 793 760 793 775 788 775 784 777 782 802 771 821 758 838 749 855 736 862 734 875 724 875 718 893 705 896 698 913 687 917 680 934 670 936 667 937 662 954 650 965 639 967 630 974 620 985 612 994 599 1005 589ZM988 271 984 275 983 278 983 284 985 288 992 293 1004 294 1005 293 1005 268 995 268Z"/><path fill="#ffff00" d="M1005 454 983 484 896 571 871 592 837 626 816 644 803 653 799 657 795 668 791 672 770 686 747 698 732 713 713 754 708 759 690 772 639 800 636 803 755 803 755 795 757 793 760 793 775 788 775 784 777 782 802 771 821 758 838 749 855 736 862 734 875 724 875 718 893 705 896 698 913 687 917 680 934 670 936 667 937 662 954 650 965 639 967 630 974 620 985 612 994 599 1005 589ZM991 272 986 278 987 286 993 291 997 292 1005 291 1005 271 997 270Z"/><path fill="#efff10" d="M1005 460 982 489 903 567 875 591 843 623 816 646 802 656 796 669 792 673 770 688 749 699 733 715 726 732 714 756 711 759 689 775 641 803 755 803 755 795 757 793 760 793 775 788 775 784 777 782 802 771 821 758 838 749 855 736 862 734 875 724 875 718 893 705 896 698 913 687 917 680 934 670 936 667 937 662 954 650 965 639 967 630 974 620 985 612 994 599 1005 589ZM989 278 988 281 991 287 998 290 1005 289 1005 274 1004 273 995 273Z"/><path fill="#dfff20" d="M1005 465 987 485 983 491 911 562 880 589 842 626 815 649 806 655 802 659 797 670 792 675 770 690 751 700 734 717 728 732 714 759 688 778 647 803 755 803 755 795 757 793 760 793 775 788 775 784 777 782 802 771 821 758 838 749 855 736 862 734 875 724 875 718 893 705 896 698 913 687 917 680 934 670 936 667 937 662 954 650 965 639 967 630 974 620 985 612 994 599 1005 589ZM992 279 992 283 997 287 1005 286 1005 277 1004 276 998 275 995 276Z"/><path fill="#cfff30" d="M1005 470 990 485 985 492 919 557 886 586 847 624 819 648 805 658 799 670 793 676 770 692 755 700 747 706 736 717 723 747 717 758 712 763 693 777 653 803 755 803 755 795 757 793 760 793 775 788 775 784 777 782 802 771 821 758 838 749 855 736 862 734 875 724 875 718 893 705 896 698 913 687 917 680 934 670 936 667 937 662 954 650 965 639 967 630 974 620 985 612 994 599 1005 589ZM999 279 997 282 1001 283 1002 280Z"/><path fill="#bfff40" d="M1005 475 953 527 913 565 895 580 846 627 819 650 809 657 805 661 800 671 794 677 770 694 752 704 737 719 727 743 718 760 715 763 658 803 755 803 755 795 757 793 760 793 775 788 775 784 777 782 802 771 821 758 838 749 855 736 862 734 875 724 875 718 893 705 896 698 913 687 917 680 934 670 936 667 937 662 954 650 965 639 967 630 974 620 985 612 994 599 1005 589Z"/><path fill="#afff50" d="M1005 479 997 485 954 529 918 563 904 574 865 612 824 648 808 660 801 672 794 679 767 698 754 705 739 719 730 741 720 760 714 766 663 803 755 803 755 795 757 793 760 793 775 788 775 784 777 782 802 771 821 758 838 749 855 736 862 734 875 724 875 718 893 705 896 698 913 687 917 680 934 670 936 667 937 662 954 650 965 639 967 630 974 620 985 612 994 599 1005 589Z"/><path fill="#9fff60" d="M1005 483 995 490 956 530 923 561 903 577 870 610 823 651 812 659 807 664 803 672 795 680 779 692 756 706 740 721 732 741 721 762 716 767 668 803 755 803 755 795 757 793 760 793 775 788 775 784 777 782 802 771 821 758 838 749 855 736 862 734 875 724 875 718 893 705 896 698 913 687 917 680 934 670 936 667 937 662 954 650 965 639 967 630 974 620 985 612 994 599 1005 589Z"/><path fill="#8fff70" d="M1005 487 994 494 957 532 919 567 908 575 874 609 822 654 811 662 804 673 795 682 775 697 758 707 747 716 740 724 731 748 721 765 672 803 755 803 755 795 757 793 760 793 775 788 775 784 777 782 802 771 821 758 838 749 855 736 862 734 875 724 875 718 893 705 896 698 913 687 917 680 934 670 936 667 937 662 954 650 965 639 967 630 974 620 985 612 994 599 1005 589Z"/><path fill="#80ff80" d="M1005 490 998 494 958 534 923 566 908 577 870 615 815 661 810 666 806 673 796 683 775 699 760 708 751 715 742 724 733 748 724 764 713 774 690 791 677 803 755 803 755 795 757 793 760 793 775 788 775 784 777 782 802 771 821 758 838 749 855 736 862 734 875 724 875 718 893 705 896 698 913 687 917 680 934 670 936 667 937 662 954 650 965 639 967 630 974 620 985 612 994 599 1005 589Z"/><path fill="#70ff8f" d="M1005 494 998 497 972 524 921 570 908 579 874 614 814 664 807 674 796 685 748 720 744 724 735 748 724 767 680 803 755 803 755 795 757 793 760 793 775 788 775 784 777 782 802 771 821 758 838 749 855 736 862 734 875 724 875 718 893 705 896 698 913 687 917 680 934 670 936 667 937 662 954 650 965 639 967 630 974 620 985 612 994 599 1005 589Z"/><path fill="#60ff9f" d="M1005 497 999 499 972 527 924 570 911 579 877 614 819 662 796 687 774 704 752 719 745 726 737 748 724 770 705 784 684 803 755 803 755 795 757 793 760 793 775 788 775 784 777 782 802 771 821 758 838 749 855 736 862 734 875 724 875 718 893 705 896 698 913 687 917 680 934 670 936 667 937 662 954 650 965 639 967 630 974 620 985 612 994 599 1005 589Z"/><path fill="#50ffaf" d="M1005 500 1000 501 973 529 927 570 911 581 880 614 852 636 817 666 811 674 795 690 750 723 745 730 738 751 727 769 694 796 688 803 755 803 755 795 757 793 760 793 775 788 775 784 777 782 802 771 821 758 838 749 855 736 862 734 875 724 875 718 893 705 896 698 913 687 917 680 934 670 936 667 937 662 954 650 965 639 967 630 974 620 985 612 994 599 1005 589Z"/><path fill="#40ffbf" d="M1005 502 1000 504 973 532 931 569 911 583 878 618 852 638 822 664 795 692 753 723 748 728 740 751 727 772 704 790 691 803 755 803 755 795 757 793 760 793 775 788 775 784 777 782 802 771 821 758 838 749 855 736 862 734 875 724 875 718 893 705 896 698 913 687 917 680 934 670 936 667 937 662 954 650 965 639 967 630 974 620 985 612 994 599 1005 589Z"/><path fill="#30ffcf" d="M1005 505 1001 506 974 534 928 574 915 582 881 618 851 641 821 667 795 694 752 726 749 729 742 751 730 771 723 778 708 789 694 803 755 803 755 795 757 793 760 793 775 788 775 784 777 782 802 771 821 758 838 749 855 736 862 734 875 724 875 718 893 705 896 698 913 687 917 680 934 670 936 667 937 662 954 650 965 639 967 630 974 620 985 612 994 599 1005 589Z"/><path fill="#20ffdf" d="M1005 508 1002 508 975 536 931 574 915 584 883 619 850 644 826 665 795 696 774 713 755 726 751 730 744 751 731 773 711 789 697 803 755 803 755 795 757 793 760 793 775 788 775 784 777 782 802 771 821 758 838 749 855 736 862 734 875 724 875 718 893 705 896 698 913 687 917 680 934 670 936 667 937 662 954 650 965 639 967 630 974 620 985 612 994 599 1005 589Z"/><path fill="#10ffef" d="M1005 510 1003 510 976 538 930 577 915 586 886 619 848 648 825 668 794 699 773 716 752 731 745 754 731 776 713 790 700 803 755 803 755 795 757 793 760 793 775 788 775 784 777 782 802 771 821 758 838 749 855 736 862 734 875 724 875 718 893 705 896 698 913 687 917 680 934 670 936 667 937 662 954 650 965 639 967 630 974 620 985 612 994 599 1005 589Z"/><path fill="#00ffff" d="M1005 510 994 523 977 540 932 578 918 586 884 623 855 644 823 672 794 701 776 716 757 729 753 733 746 756 734 775 727 782 711 794 702 803 755 803 755 795 757 793 760 793 775 788 775 784 777 782 802 771 821 758 838 749 855 736 862 734 875 724 875 718 893 705 896 698 913 687 917 680 934 670 936 667 937 662 954 650 965 639 967 630 974 620 985 612 994 599 1005 589Z"/><path fill="#00efff" d="M1005 516 983 538 933 581 918 590 885 626 852 651 828 672 798 702 782 716 758 733 755 738 749 756 735 778 714 796 708 803 755 803 755 795 757 793 760 793 775 788 775 784 777 782 802 771 821 758 838 749 855 736 862 734 875 724 875 718 893 705 896 698 913 687 917 680 934 670 936 667 937 662 954 650 965 639 967 630 974 620 985 612 994 599 1005 589Z"/><path fill="#00dfff" d="M1005 520 996 527 980 544 934 584 921 592 887 628 862 647 841 665 791 713 778 724 763 734 759 738 751 758 737 779 713 803 755 803 755 795 757 793 760 793 775 788 775 784 777 782 802 771 821 758 838 749 855 736 862 734 875 724 875 718 893 705 896 698 913 687 917 680 934 670 936 667 937 662 954 650 965 639 967 630 974 620 985 612 994 599 1005 589Z"/><path fill="#00cfff" d="M1005 524 1000 527 974 553 940 583 924 594 887 632 861 652 837 673 783 725 764 738 761 742 754 756 754 758 738 782 718 803 755 803 755 795 757 793 760 793 775 788 775 784 777 782 802 771 821 758 838 749 855 736 862 734 875 724 875 718 893 705 896 698 913 687 917 680 934 670 936 667 937 662 954 650 965 639 967 630 974 620 985 612 994 599 1005 589Z"/><path fill="#00bfff" d="M1005 528 999 531 984 547 941 586 924 598 888 635 865 653 833 681 789 725 769 739 762 747 757 758 741 782 727 797 723 803 755 803 755 795 757 793 760 793 775 788 775 784 777 782 802 771 821 758 838 749 855 736 862 734 875 724 875 718 893 705 896 698 913 687 917 680 934 670 936 667 937 662 954 650 965 639 967 630 974 620 985 612 994 599 1005 589Z"/><path fill="#00afff" d="M1005 532 1001 533 969 565 941 590 927 600 887 640 863 659 838 681 790 729 770 743 764 750 759 760 741 786 735 792 727 803 755 803 755 795 757 793 760 793 775 788 775 784 777 782 802 771 821 758 838 749 855 736 862 734 875 724 875 718 893 705 896 698 913 687 917 680 934 670 936 667 937 662 954 650 965 639 967 630 974 620 985 612 994 599 1005 589Z"/><path fill="#009fff" d="M1005 535 1002 535 971 567 942 593 922 609 885 646 861 665 832 691 794 731 769 749 761 762 731 803 755 803 755 795 757 793 760 793 775 788 775 784 777 782 802 771 821 758 838 749 855 736 862 734 875 724 875 718 893 705 896 698 913 687 917 680 934 670 936 667 937 662 954 650 965 639 967 630 974 620 985 612 994 599 1005 589Z"/><path fill="#008fff" d="M1005 538 1002 538 975 567 950 590 919 616 883 652 865 666 826 701 795 735 772 751 738 797 735 803 755 803 755 795 757 793 760 793 775 788 775 784 777 782 802 771 821 758 838 749 855 736 862 734 875 724 875 718 893 705 896 698 913 687 917 680 934 670 936 667 937 662 954 650 965 639 967 630 974 620 985 612 994 599 1005 589Z"/><path fill="#0080ff" d="M1005 538 991 554 964 581 919 620 882 657 863 672 833 699 818 714 806 729 797 738 775 753 769 759 754 779 738 803 755 803 755 795 757 793 760 793 775 788 775 784 777 782 802 771 821 758 838 749 855 736 862 734 875 724 875 718 893 705 896 698 913 687 917 680 934 670 936 667 937 662 954 650 965 639 967 630 974 620 985 612 994 599 1005 589Z"/><path fill="#0070ff" d="M1005 542 988 559 980 569 950 598 923 621 888 656 869 671 832 704 799 740 776 756 749 789 740 803 755 803 755 795 757 793 760 793 775 788 775 784 777 782 802 771 821 758 838 749 855 736 862 734 875 724 875 718 893 705 896 698 913 687 917 680 934 670 936 667 937 662 954 650 965 639 967 630 974 620 985 612 994 599 1005 589Z"/><path fill="#0060ff" d="M1005 546 1001 548 994 555 982 570 948 604 927 622 889 659 869 675 831 709 802 741 777 759 749 792 742 803 755 803 755 795 757 793 760 793 775 788 775 784 777 782 802 771 821 758 838 749 855 736 862 734 875 724 875 718 893 705 896 698 913 687 917 680 934 670 936 667 937 662 954 650 965 639 967 630 974 620 985 612 994 599 1005 589Z"/><path fill="#0050ff" d="M1005 549 998 553 975 581 939 617 931 623 889 663 869 679 830 714 801 745 782 759 752 791 744 803 755 803 755 795 757 793 760 793 775 788 775 784 777 782 802 771 821 758 838 749 855 736 862 734 875 724 875 718 893 705 896 698 913 687 917 680 934 670 936 667 937 662 954 650 965 639 967 630 974 620 985 612 994 599 1005 589Z"/><path fill="#0040ff" d="M1005 551 1001 553 996 558 974 586 936 624 926 632 896 661 840 709 804 746 783 762 750 796 746 803 755 803 755 795 757 793 760 793 775 788 775 784 777 782 802 771 821 758 838 749 855 736 862 734 875 724 875 718 893 705 896 698 913 687 917 680 934 670 936 667 937 662 954 650 965 639 967 630 974 620 985 612 994 599 1005 589Z"/><path fill="#0030ff" d="M1005 554 1003 554 999 557 975 589 940 625 931 632 896 665 861 694 839 714 808 746 784 765 750 799 748 803 755 803 755 795 757 793 760 793 775 788 775 784 777 782 802 771 821 758 838 749 855 736 862 734 875 724 875 718 893 705 896 698 913 687 917 680 934 670 936 667 937 662 954 650 965 639 967 630 974 620 985 612 994 599 1005 589Z"/><path fill="#0020ff" d="M755 796 750 803 755 803ZM1005 556 1003 556 999 560 977 591 944 626 896 669 862 697 837 720 805 752 784 769 767 786 758 793 775 788 775 784 777 782 802 771 821 758 838 749 855 736 862 734 875 724 875 718 893 705 896 698 913 687 917 680 934 670 936 667 937 662 954 650 965 639 967 630 974 620 985 612 994 599 1005 589Z"/><path fill="#0010ff" d="M755 798 752 803 755 803ZM1005 558 1002 559 978 594 948 627 896 673 862 701 809 752 763 792 775 788 775 784 777 782 802 771 821 758 838 749 855 736 862 734 875 724 875 718 893 705 896 698 913 687 917 680 934 670 936 667 937 662 954 650 965 639 967 630 974 620 985 612 994 599 1005 589Z"/><path fill="#0000ff" d="M755 801 754 803 755 803ZM775 785 769 790 775 788ZM1005 558 980 596 959 620 944 635 888 684 863 704 800 764 780 781 802 771 821 758 838 749 855 736 862 734 875 724 875 718 893 705 896 698 913 687 917 680 934 670 936 667 937 662 954 650 965 639 967 630 974 620 985 612 994 599 1005 589Z"/><path fill="#0000ef" d="M1005 577 986 605 953 641 897 690 872 710 819 760 838 749 855 736 862 734 875 724 875 718 892 706 896 698 913 687 917 680 934 670 936 667 937 662 954 650 965 639 967 630 974 620 985 612 994 599 1005 589Z"/><path fill="#0000df" d="M875 722 862 734 874 725Z"/></g><path d="M79 233.5H303.4M302.9 233V401" stroke="#000" stroke-width="1.1" fill="none"/><ellipse cx="302.8" cy="232.9" rx="14.3" ry="12.4" stroke="#000" stroke-width="1.1" fill="none" opacity="0.85"/><rect x="79.5" y="34.5" width="423" height="367" fill="none" stroke="#000" stroke-opacity="0.5" stroke-width="1"/><path d="M128.5 401v-5M128.5 35v4M178.5 401v-5M178.5 35v4M228.5 401v-5M228.5 35v4M278.5 401v-5M278.5 35v4M328.5 401v-5M328.5 35v4M377.5 401v-5M377.5 35v4M427.5 401v-5M427.5 35v4M477.5 401v-5M477.5 35v4" stroke="#000" stroke-opacity="0.5"/><text text-anchor="middle" transform="translate(126.4,416.1) scale(1,1.08)">-2.7</text><text text-anchor="middle" transform="translate(176.4,416.1) scale(1,1.08)">-2.6</text><text text-anchor="middle" transform="translate(226.4,416.1) scale(1,1.08)">-2.5</text><text text-anchor="middle" transform="translate(276.4,416.1) scale(1,1.08)">-2.4</text><text text-anchor="middle" transform="translate(326.4,416.1) scale(1,1.08)">-2.3</text><text text-anchor="middle" transform="translate(375.4,416.1) scale(1,1.08)">-2.2</text><text text-anchor="middle" transform="translate(425.4,416.1) scale(1,1.08)">-2.1</text><text text-anchor="middle" transform="translate(475.4,416.1) scale(1,1.08)">-2</text><path d="M80 65.5h4M502 65.5h-4M80 126.5h4M502 126.5h-4M80 187.5h4M502 187.5h-4M80 248.5h4M502 248.5h-4M80 309.5h4M502 309.5h-4M80 370.5h4M502 370.5h-4" stroke="#000" stroke-opacity="0.5"/><text text-anchor="end" transform="translate(77.8,71.1) scale(1,1.08)">3.8</text><text text-anchor="end" transform="translate(77.8,132.1) scale(1,1.08)">3.6</text><text text-anchor="end" transform="translate(77.8,193.1) scale(1,1.08)">3.4</text><text text-anchor="end" transform="translate(77.8,254.1) scale(1,1.08)">3.2</text><text text-anchor="end" transform="translate(77.8,315.1) scale(1,1.08)">3</text><text text-anchor="end" transform="translate(77.8,376.1) scale(1,1.08)">2.8</text><rect x="520" y="396.25" width="22" height="6.05" fill="#800000" shape-rendering="crispEdges"/><rect x="520" y="390.50" width="22" height="6.05" fill="#8f0000" shape-rendering="crispEdges"/><rect x="520" y="384.75" width="22" height="6.05" fill="#9f0000" shape-rendering="crispEdges"/><rect x="520" y="379.00" width="22" height="6.05" fill="#af0000" shape-rendering="crispEdges"/><rect x="520" y="373.25" width="22" height="6.05" fill="#bf0000" shape-rendering="crispEdges"/><rect x="520" y="367.50" width="22" height="6.05" fill="#cf0000" shape-rendering="crispEdges"/><rect x="520" y="361.75" width="22" height="6.05" fill="#df0000" shape-rendering="crispEdges"/><rect x="520" y="356.00" width="22" height="6.05" fill="#ef0000" shape-rendering="crispEdges"/><rect x="520" y="350.25" width="22" height="6.05" fill="#ff0000" shape-rendering="crispEdges"/><rect x="520" y="344.50" width="22" height="6.05" fill="#ff1000" shape-rendering="crispEdges"/><rect x="520" y="338.75" width="22" height="6.05" fill="#ff2000" shape-rendering="crispEdges"/><rect x="520" y="333.00" width="22" height="6.05" fill="#ff3000" shape-rendering="crispEdges"/><rect x="520" y="327.25" width="22" height="6.05" fill="#ff4000" shape-rendering="crispEdges"/><rect x="520" y="321.50" width="22" height="6.05" fill="#ff5000" shape-rendering="crispEdges"/><rect x="520" y="315.75" width="22" height="6.05" fill="#ff6000" shape-rendering="crispEdges"/><rect x="520" y="310.00" width="22" height="6.05" fill="#ff7000" shape-rendering="crispEdges"/><rect x="520" y="304.25" width="22" height="6.05" fill="#ff8000" shape-rendering="crispEdges"/><rect x="520" y="298.50" width="22" height="6.05" fill="#ff8f00" shape-rendering="crispEdges"/><rect x="520" y="292.75" width="22" height="6.05" fill="#ff9f00" shape-rendering="crispEdges"/><rect x="520" y="287.00" width="22" height="6.05" fill="#ffaf00" shape-rendering="crispEdges"/><rect x="520" y="281.25" width="22" height="6.05" fill="#ffbf00" shape-rendering="crispEdges"/><rect x="520" y="275.50" width="22" height="6.05" fill="#ffcf00" shape-rendering="crispEdges"/><rect x="520" y="269.75" width="22" height="6.05" fill="#ffdf00" shape-rendering="crispEdges"/><rect x="520" y="264.00" width="22" height="6.05" fill="#ffef00" shape-rendering="crispEdges"/><rect x="520" y="258.25" width="22" height="6.05" fill="#ffff00" shape-rendering="crispEdges"/><rect x="520" y="252.50" width="22" height="6.05" fill="#efff10" shape-rendering="crispEdges"/><rect x="520" y="246.75" width="22" height="6.05" fill="#dfff20" shape-rendering="crispEdges"/><rect x="520" y="241.00" width="22" height="6.05" fill="#cfff30" shape-rendering="crispEdges"/><rect x="520" y="235.25" width="22" height="6.05" fill="#bfff40" shape-rendering="crispEdges"/><rect x="520" y="229.50" width="22" height="6.05" fill="#afff50" shape-rendering="crispEdges"/><rect x="520" y="223.75" width="22" height="6.05" fill="#9fff60" shape-rendering="crispEdges"/><rect x="520" y="218.00" width="22" height="6.05" fill="#8fff70" shape-rendering="crispEdges"/><rect x="520" y="212.25" width="22" height="6.05" fill="#80ff80" shape-rendering="crispEdges"/><rect x="520" y="206.50" width="22" height="6.05" fill="#70ff8f" shape-rendering="crispEdges"/><rect x="520" y="200.75" width="22" height="6.05" fill="#60ff9f" shape-rendering="crispEdges"/><rect x="520" y="195.00" width="22" height="6.05" fill="#50ffaf" shape-rendering="crispEdges"/><rect x="520" y="189.25" width="22" height="6.05" fill="#40ffbf" shape-rendering="crispEdges"/><rect x="520" y="183.50" width="22" height="6.05" fill="#30ffcf" shape-rendering="crispEdges"/><rect x="520" y="177.75" width="22" height="6.05" fill="#20ffdf" shape-rendering="crispEdges"/><rect x="520" y="172.00" width="22" height="6.05" fill="#10ffef" shape-rendering="crispEdges"/><rect x="520" y="166.25" width="22" height="6.05" fill="#00ffff" shape-rendering="crispEdges"/><rect x="520" y="160.50" width="22" height="6.05" fill="#00efff" shape-rendering="crispEdges"/><rect x="520" y="154.75" width="22" height="6.05" fill="#00dfff" shape-rendering="crispEdges"/><rect x="520" y="149.00" width="22" height="6.05" fill="#00cfff" shape-rendering="crispEdges"/><rect x="520" y="143.25" width="22" height="6.05" fill="#00bfff" shape-rendering="crispEdges"/><rect x="520" y="137.50" width="22" height="6.05" fill="#00afff" shape-rendering="crispEdges"/><rect x="520" y="131.75" width="22" height="6.05" fill="#009fff" shape-rendering="crispEdges"/><rect x="520" y="126.00" width="22" height="6.05" fill="#008fff" shape-rendering="crispEdges"/><rect x="520" y="120.25" width="22" height="6.05" fill="#0080ff" shape-rendering="crispEdges"/><rect x="520" y="114.50" width="22" height="6.05" fill="#0070ff" shape-rendering="crispEdges"/><rect x="520" y="108.75" width="22" height="6.05" fill="#0060ff" shape-rendering="crispEdges"/><rect x="520" y="103.00" width="22" height="6.05" fill="#0050ff" shape-rendering="crispEdges"/><rect x="520" y="97.25" width="22" height="6.05" fill="#0040ff" shape-rendering="crispEdges"/><rect x="520" y="91.50" width="22" height="6.05" fill="#0030ff" shape-rendering="crispEdges"/><rect x="520" y="85.75" width="22" height="6.05" fill="#0020ff" shape-rendering="crispEdges"/><rect x="520" y="80.00" width="22" height="6.05" fill="#0010ff" shape-rendering="crispEdges"/><rect x="520" y="74.25" width="22" height="6.05" fill="#0000ff" shape-rendering="crispEdges"/><rect x="520" y="68.50" width="22" height="6.05" fill="#0000ef" shape-rendering="crispEdges"/><rect x="520" y="62.75" width="22" height="6.05" fill="#0000df" shape-rendering="crispEdges"/><rect x="520" y="57.00" width="22" height="6.05" fill="#0000cf" shape-rendering="crispEdges"/><rect x="520" y="51.25" width="22" height="6.05" fill="#0000bf" shape-rendering="crispEdges"/><rect x="520" y="45.50" width="22" height="6.05" fill="#0000af" shape-rendering="crispEdges"/><rect x="520" y="39.75" width="22" height="6.05" fill="#00009f" shape-rendering="crispEdges"/><rect x="520" y="34.00" width="22" height="6.05" fill="#00008f" shape-rendering="crispEdges"/><rect x="520.5" y="34.5" width="21" height="367" fill="none" stroke="#000" stroke-opacity="0.6" stroke-width="1"/><path d="M521 34.5h3M541 34.5h-3M521 71.5h3M541 71.5h-3M521 107.5h3M541 107.5h-3M521 144.5h3M541 144.5h-3M521 181.5h3M541 181.5h-3M521 218.5h3M541 218.5h-3M521 254.5h3M541 254.5h-3M521 291.5h3M541 291.5h-3M521 328.5h3M541 328.5h-3M521 364.5h3M541 364.5h-3M521 401.5h3M541 401.5h-3" stroke="#000" stroke-opacity="0.6"/><text transform="translate(544.8,38.9) scale(1,1.08)">1.05</text><text transform="translate(544.8,75.6) scale(1,1.08)">1.045</text><text transform="translate(544.8,112.3) scale(1,1.08)">1.04</text><text transform="translate(544.8,149.0) scale(1,1.08)">1.035</text><text transform="translate(544.8,185.7) scale(1,1.08)">1.03</text><text transform="translate(544.8,222.4) scale(1,1.08)">1.025</text><text transform="translate(544.8,259.1) scale(1,1.08)">1.02</text><text transform="translate(544.8,295.8) scale(1,1.08)">1.015</text><text transform="translate(544.8,332.5) scale(1,1.08)">1.01</text><text transform="translate(544.8,369.2) scale(1,1.08)">1.005</text><text transform="translate(544.8,405.9) scale(1,1.08)">1</text><text x="289.6" y="23.6" text-anchor="middle" style="font-size:18.3px">Fmin=1.000 for CHEN1</text><text x="290" y="431.8" text-anchor="middle" style="font-size:14.67px;font-weight:bold">xo</text><text text-anchor="middle" transform="translate(50.8,218.3) rotate(-90)" style="font-size:14.67px;font-weight:bold">xc</text></svg>
</body></html>
